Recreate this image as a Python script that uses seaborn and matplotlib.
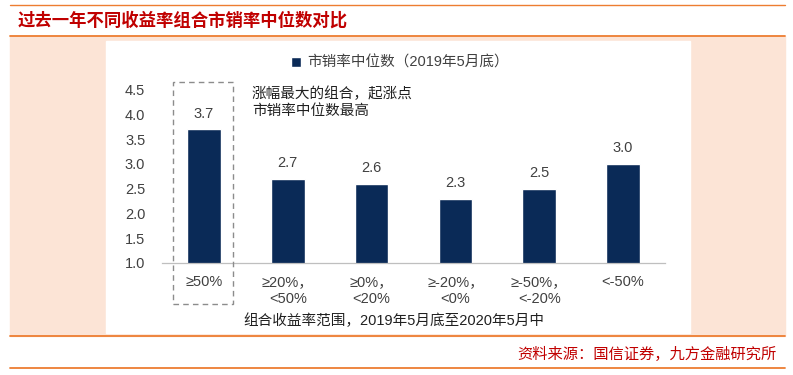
import matplotlib
matplotlib.use('Agg')
import matplotlib.pyplot as plt
import matplotlib.patches as patches
import seaborn as sns
import numpy as np

# --- data ---
categories = ['≥50%', '≥20%，\n<50%', '≥0%，\n<20%', '≥-20%，\n<0%', '≥-50%，\n<-20%', '<-50%']
values = [3.7, 2.7, 2.6, 2.3, 2.5, 3.0]
series_name = '市销率中位数（2019年5月底）'
yticks = [1.0, 1.5, 2.0, 2.5, 3.0, 3.5, 4.0, 4.5]

sns.set_style('white')
plt.rcParams['font.family'] = ['Liberation Sans', 'Noto Sans CJK SC', 'DejaVu Sans']

W, H = 793, 375
navy = '#0A2A57'
red = '#C00000'
orange = '#ED7D31'
txtgray = '#404040'

fig = plt.figure(figsize=(W / 100, H / 100), dpi=100)

def fx(px):
    return px / W

def fy(py):
    return 1 - py / H

# background panels
fig.patches.append(patches.Rectangle((fx(10), fy(336)), fx(775), (336 - 36) / H,
                                     transform=fig.transFigure, color='#FCE4D6', zorder=-10))
fig.patches.append(patches.Rectangle((fx(106), fy(333)), fx(584), (333 - 41) / H,
                                     transform=fig.transFigure, color='white', zorder=-9))
for yy, lw in [(5, 1.0), (36, 1.3), (336, 1.3), (368, 1.3)]:
    fig.add_artist(plt.Line2D([fx(10), fx(785)], [fy(yy), fy(yy)], color=orange, lw=lw))

# title / source
fig.text(fx(18), fy(21), '过去一年不同收益率组合市销率中位数对比', color=red, fontsize=12.5,
         fontweight='bold', va='center', ha='left', family=['Noto Sans CJK SC'])
fig.text(fx(777), fy(354), '资料来源：国信证券，九方金融研究所', color=red, fontsize=11,
         va='center', ha='right', family=['Noto Sans CJK SC'])

# chart
ax = fig.add_axes([fx(162), fy(263), fx(503), (263 - 89.4) / H])
ax.set_facecolor('none')
sns.barplot(x=categories, y=values, color=navy, width=0.4, saturation=1, ax=ax, label=series_name)
ax.set_ylim(1, 4.5)
ax.set_xlim(-0.5, 5.5)
ax.set_yticks(yticks)
ax.set_yticklabels([f'{v:.1f}' for v in yticks])
ax.bar_label(ax.containers[0], fmt='%.1f', padding=6, fontsize=10.5, color=txtgray)

for s in ['top', 'right', 'left']:
    ax.spines[s].set_visible(False)
ax.spines['bottom'].set_color('#BFBFBF')
ax.spines['bottom'].set_linewidth(0.9)
ax.set_xticks([i - 0.5 for i in range(7)], minor=True)
ax.tick_params(axis='x', which='major', length=0, pad=9, labelsize=10.5, labelcolor=txtgray)
ax.tick_params(axis='x', which='minor', length=4, color='#BFBFBF', direction='out')
ax.tick_params(axis='y', length=0, pad=12, labelsize=10.5, labelcolor=txtgray)
ax.set_xlabel('组合收益率范围，2019年5月底至2020年5月中', fontsize=10.5, color='#202020')
ax.xaxis.set_label_coords((394 - 162) / 503, -(321 - 263) / (263 - 89.4))
ax.xaxis.label.set_va('center')
ax.set_ylabel('')

leg = ax.legend(loc='center', bbox_to_anchor=(fx(400), fy(63)), bbox_transform=fig.transFigure,
                frameon=False, fontsize=10.5, handlelength=0.7, handleheight=0.7, handletextpad=0.4)
for t in leg.get_texts():
    t.set_color(txtgray)

# highlight box and note
fig.patches.append(patches.Rectangle((fx(173), fy(304)), fx(60), (304 - 82) / H,
                                     transform=fig.transFigure, fill=False, edgecolor='#8C8C8C',
                                     ls=(0, (4, 3)), lw=1.0, zorder=5))
fig.text(fx(252), fy(102), '涨幅最大的组合，起涨点\n市销率中位数最高', fontsize=10.5, color='#202020',
         va='center', ha='left', linespacing=1.3)

fig.savefig('out.png', dpi=100)
